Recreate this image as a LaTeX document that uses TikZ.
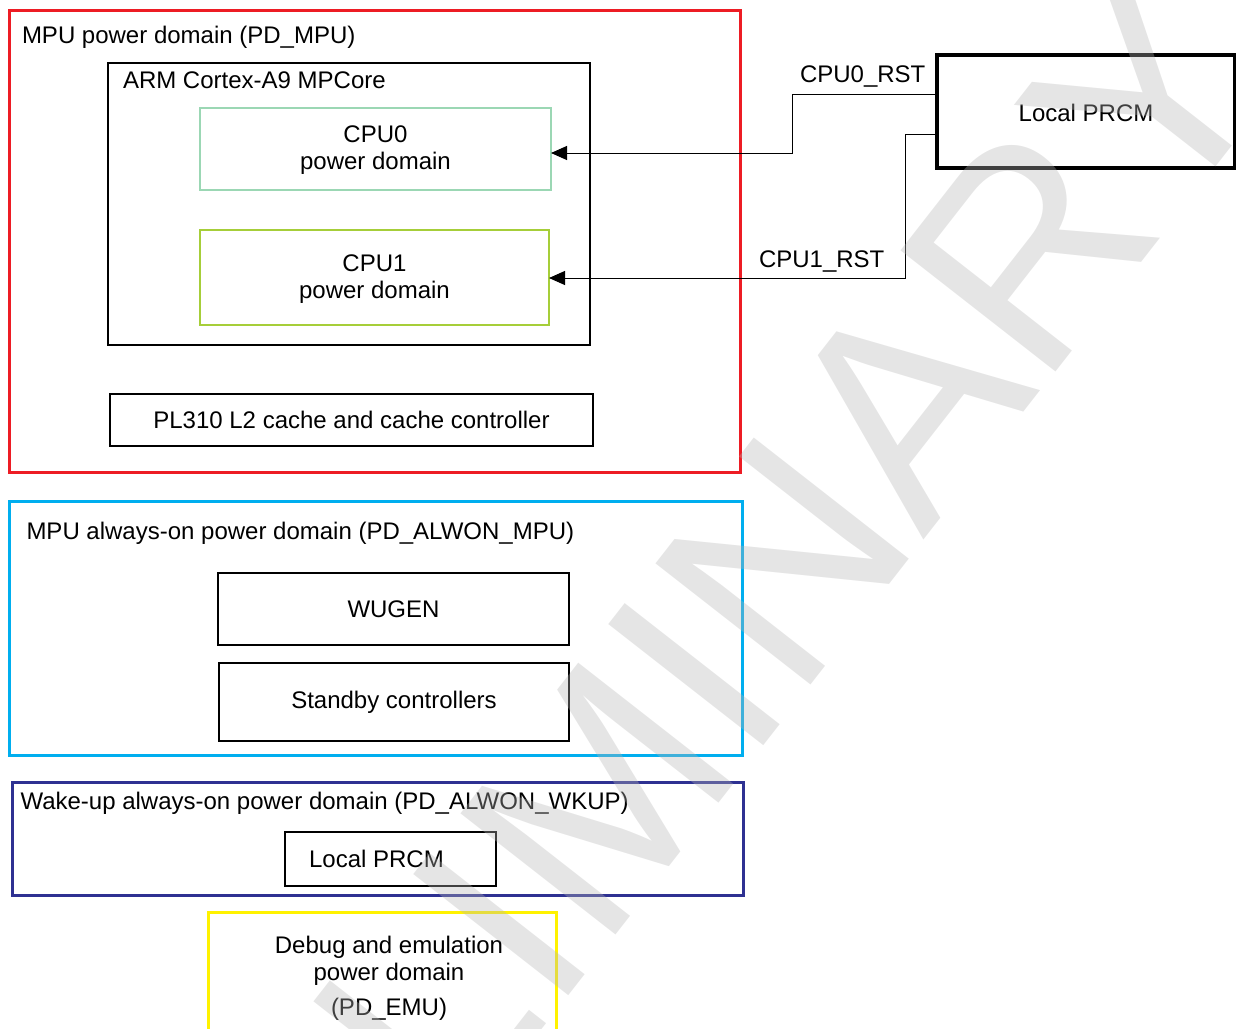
\documentclass[tikz,border=0pt]{standalone}
\usepackage{fontspec}
\setmainfont{Liberation Sans}
\usetikzlibrary{arrows.meta}
\definecolor{pdred}{HTML}{ED1C24}
\definecolor{pdcyan}{HTML}{00AEEF}
\definecolor{pdnavy}{HTML}{2E3192}
\definecolor{pdyellow}{HTML}{FFF200}
\definecolor{pdmint}{HTML}{9BD7B4}
\definecolor{pdlime}{HTML}{A6CE39}
\definecolor{wmgray}{gray}{0.71}
\begin{document}
\begin{tikzpicture}[x=1pt,y=-1pt,
  box/.style={draw, rectangle, inner sep=0pt, outer sep=0pt, align=center,
    font=\fontsize{24}{27}\selectfont, line width=2.4pt},
  txt/.style={font=\fontsize{24}{27}\selectfont, inner sep=0pt, outer sep=0pt},
  sig/.style={line width=1pt, -{Triangle[length=16pt,width=14pt]}},
  wm/.style={font=\fontsize{286}{300}\selectfont, text=wmgray, text opacity=0.35, inner sep=0pt, outer sep=0pt}]
\useasboundingbox (0,0) rectangle (1236,1028);
\clip (0,0) rectangle (1236,1028);
% MPU power domain
\node[box, draw=pdred, line width=3pt, minimum width=731pt, minimum height=462pt] (mpu) at (374.5,241) {};
\node[box, minimum width=482pt, minimum height=282pt] (arm) at (349,204) {};
\node[box, draw=pdmint, line width=2.2pt, minimum width=351pt, minimum height=82pt] (cpu0) at (375.5,149) {};
\node[txt, align=center] (cpu0txt) at ([yshift=-1.5pt]cpu0.center) {CPU0\\power domain};
\node[box, draw=pdlime, line width=2.2pt, minimum width=349pt, minimum height=95pt] (cpu1) at (374.5,277.5) {};
\node[txt, align=center] (cpu1txt) at ([yshift=-1.5pt]cpu1.center) {CPU1\\power domain};
\node[box, minimum width=483pt, minimum height=52pt] (pl310) at (351.5,420) {PL310 L2 cache and cache controller};
\node[txt, anchor=base west] (t1) at (22,43) {MPU power domain (PD\_MPU)};
\node[txt, anchor=base west] (t2) at (123,88) {ARM Cortex-A9 MPCore};
% Local PRCM (right)
\node[box, line width=3.4pt, minimum width=298pt, minimum height=113pt] (prcm) at (1086,111.5) {};
\node[txt] (prcmtxt) at ([yshift=-1pt]prcm.center) {Local PRCM};
% MPU always-on
\node[box, draw=pdcyan, line width=3pt, minimum width=733pt, minimum height=254pt] (alwon) at (375.5,628) {};
\node[box, minimum width=351pt, minimum height=72pt] (wugen) at (393.5,609) {WUGEN};
\node[box, minimum width=350pt, minimum height=78pt] (stby) at (394,702) {Standby controllers};
\node[txt, anchor=base west] (t3) at (26.5,539.5) {MPU always-on power domain (PD\_ALWON\_MPU)};
% Wake-up always-on
\node[box, draw=pdnavy, line width=3pt, minimum width=731pt, minimum height=113pt] (wkup) at (377.5,838.5) {};
\node[box, minimum width=211pt, minimum height=54pt] (lprcm) at (390.5,859) {};
\node[txt] (lprcmtxt) at ([xshift=-14pt]lprcm.center) {Local PRCM};
\node[txt, anchor=base west] (t4) at (20.5,809.5) {Wake-up always-on power domain (PD\_ALWON\_WKUP)};
% Debug and emulation
\node[box, draw=pdyellow, line width=3pt, minimum width=348pt, minimum height=148pt] (emu) at (382,986) {};
\node[txt, align=center] (emutxt) at (389,978.5) {Debug and emulation\\power domain\\[8pt](PD\_EMU)};
% reset connectors
\coordinate (k0) at (792.5,153);
\coordinate (k1) at (905.5,278);
\draw[sig] ([yshift=17pt]prcm.west) -| (k0) -- (cpu0.east |- k0);
\draw[sig] ([yshift=-23pt]prcm.west) -| (k1) -- (cpu1.east |- k1);
\node[txt, anchor=base] (l0) at (862.7,82) {CPU0\_RST};
\node[txt, anchor=base] (l1) at (821.7,267) {CPU1\_RST};
% watermark
\node[wm, rotate=52, anchor=base west] (wmk) at (92.3,1605.1) {PRELIMINARY};
\end{tikzpicture}
\end{document}
